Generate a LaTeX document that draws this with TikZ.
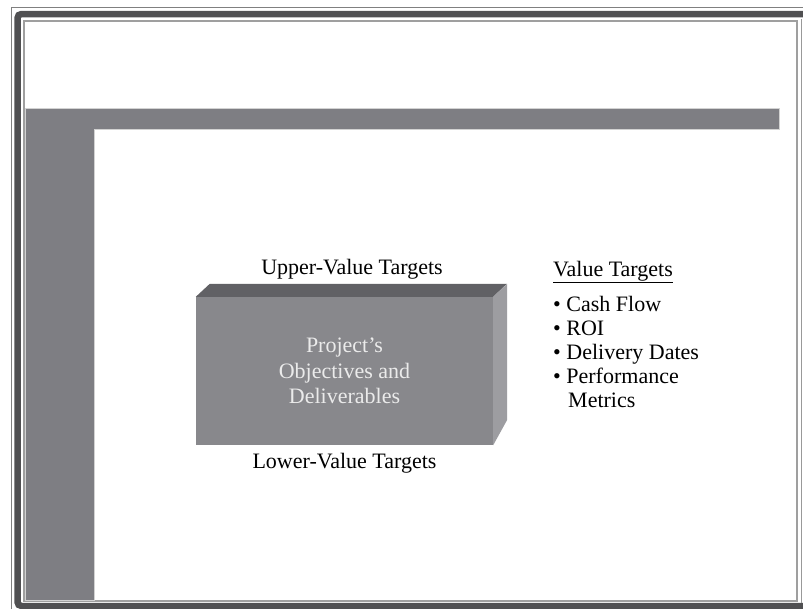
\documentclass[tikz,border=0pt]{standalone}
\usepackage{fontspec}
\setmainfont{Liberation Serif}
\usetikzlibrary{positioning}
\definecolor{framedark}{HTML}{505052}
\definecolor{barfill}{HTML}{7E7E83}
\definecolor{topface}{HTML}{616165}
\definecolor{frontface}{HTML}{88888C}
\definecolor{sideface}{HTML}{9D9DA1}

\begin{document}
\begin{tikzpicture}[x=1pt, y=-1pt, every node/.style={font=\fontsize{22}{24}\selectfont, inner sep=0pt}, front/.style={fill=frontface, minimum width=297pt, minimum height=148pt, align=center, text=white!92!black, font=\fontsize{22}{25.5}\selectfont}, lbl/.style={anchor=base}, item/.style={anchor=base west}]
\useasboundingbox (0,0) rectangle (803,608);
\clip (0,0) rectangle (803,608);
% frame
\draw[gray, line width=1pt] (11,7) rectangle (812,614);
\draw[framedark, line width=6.5pt, rounded corners=4pt] (17.5,14) rectangle (808,606);
\draw[gray!80, line width=0.8pt] (801,19) -- (801,603);
\draw[gray!75, fill=white, line width=1.6pt] (24,21) rectangle (797,601);
% gray band
\filldraw[fill=barfill, draw=gray!35, line width=0.6pt] (25,108) -- (779,108) -- (779,129) -- (94,129) -- (94,600.5) -- (25,600.5) -- cycle;
% box
\node[front] (proj) at (344.5,371) {Project's\\Objectives and\\Deliverables};
\fill[topface] (proj.north west) -- ++(14,-13) -- ++(297,0) -- (proj.north east) -- cycle;
\fill[sideface] (proj.north east) -- ++(14,-13) -- ++(0,136) -- (proj.south east) -- cycle;
\node[lbl] (upper) at (352,274) {Upper-Value Targets};
\node[lbl] (lower) at (344.5,468) {Lower-Value Targets};
% list
\node[item] (vt) at (553,276) {\underline{Value Targets}};
\node[item] (cash) at (553,311) {\textbullet\ Cash Flow};
\node[item] (roi) at (553,335) {\textbullet\ ROI};
\node[item] (dates) at (553,359) {\textbullet\ Delivery Dates};
\node[item] (perf) at (553,383) {\textbullet\ Performance};
\node[item] (metr) at (568,407) {Metrics};
\end{tikzpicture}
\end{document}
